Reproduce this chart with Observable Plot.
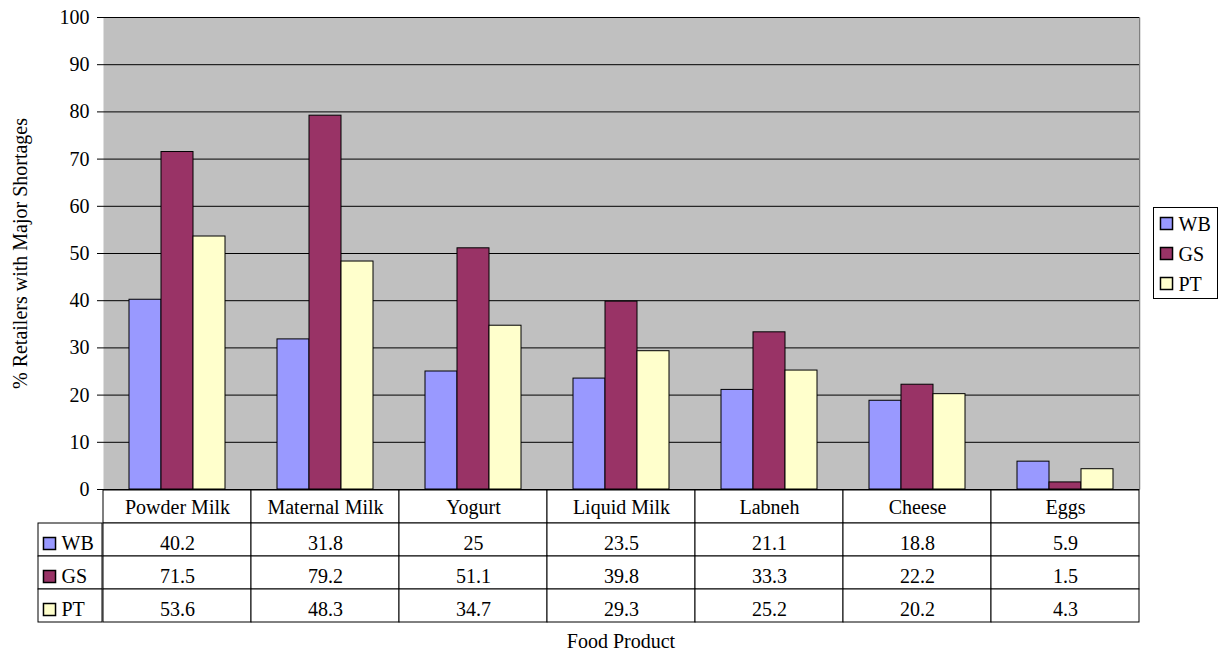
<!DOCTYPE html>
<html>
<head>
<meta charset="utf-8">
<script src="https://cdn.jsdelivr.net/npm/d3@7"></script>
<script src="https://cdn.jsdelivr.net/npm/@observablehq/plot@0.6"></script>
<style>
  body { margin: 0; background: white; }
  #chart { position: relative; width: 1225px; height: 652px; }
  #chart svg { position: absolute; overflow: visible; background: transparent; }
</style>
</head>
<body>
<div id="chart"></div>
<script>
// Share of retailers reporting major shortages, by food product and region
const categories = ["Powder Milk", "Maternal Milk", "Yogurt", "Liquid Milk", "Labneh", "Cheese", "Eggs"];
const seriesNames = ["WB", "GS", "PT"];
const seriesColors = ["#9999FF", "#993366", "#FFFFCC"];
const wbValues = [40.2, 31.8, 25, 23.5, 21.1, 18.8, 5.9];
const gsValues = [71.5, 79.2, 51.1, 39.8, 33.3, 22.2, 1.5];
const ptValues = [53.6, 48.3, 34.7, 29.3, 25.2, 20.2, 4.3];
const yTicks = [0, 10, 20, 30, 40, 50, 60, 70, 80, 90, 100];
const yTitle = "% Retailers with Major Shortages";
const xTitle = "Food Product";

// long-format rows for the bars and the data table
const valuesBySeries = {WB: wbValues, GS: gsValues, PT: ptValues};
const rows = seriesNames.flatMap(s =>
  categories.map((c, i) => ({category: c, series: s, value: valuesBySeries[s][i]}))
);
const tableRows = [xTitle, ...seriesNames];

const serif = "Liberation Serif";
const textStyle = {fontFamily: serif, fontSize: "20px"};
const color = {domain: seriesNames, range: seriesColors};
const container = document.getElementById("chart");

function place(svg, left, top) {
  svg.style.left = left + "px";
  svg.style.top = top + "px";
  container.appendChild(svg);
}

// grouped bar chart: one facet per product, one band per region
const chart = Plot.plot({
  width: 1225,
  height: 490,
  marginLeft: 102,
  marginRight: 86,
  marginTop: 17,
  marginBottom: 1,
  style: textStyle,
  fx: {domain: categories, padding: 0, axis: null},
  x: {domain: seriesNames, paddingInner: 0, paddingOuter: 0.75, axis: null},
  y: {domain: [0, 100], axis: null},
  color,
  marks: [
    Plot.frame({fill: "#C0C0C0", insetRight: -1}),
    Plot.ruleY(yTicks.filter(v => v > 0), {stroke: "black"}),
    Plot.barY(rows, {fx: "category", x: "series", y: "value", fill: "series", stroke: "black"}),
    Plot.ruleY([0], {stroke: "black"}),
    Plot.frame({anchor: "right", stroke: "#808080", fx: () => categories[categories.length - 1]}),
    Plot.axisY(yTicks, {
      fx: () => categories[0],
      anchor: "left",
      tickSize: 6,
      tickPadding: 8,
      label: null,
      fontFamily: serif,
      stroke: "black"
    }),
    Plot.text([yTitle], {
      fx: () => categories[0],
      text: d => d,
      frameAnchor: "left",
      textAnchor: "middle",
      dx: -83,
      rotate: -90,
      fontFamily: serif
    })
  ]
});
place(chart, 0, 0);

// data table under the chart, one column per product
const table = Plot.plot({
  width: 1225,
  height: 163,
  marginLeft: 102,
  marginRight: 86,
  marginTop: 0,
  marginBottom: 30,
  style: textStyle,
  x: {domain: categories, padding: 0, axis: null},
  y: {type: "band", domain: tableRows, padding: 0, axis: null},
  marks: [
    Plot.cell(categories, {x: d => d, y: () => xTitle, fill: "white", stroke: "black"}),
    Plot.text(categories, {x: d => d, y: () => xTitle, text: d => d, dy: 1, fontFamily: serif}),
    Plot.cell(rows, {x: "category", y: "series", fill: "white", stroke: "black"}),
    Plot.text(rows, {x: "category", y: "series", text: d => String(d.value), dy: 3.5, fontFamily: serif}),
    Plot.text([xTitle], {text: d => d, frameAnchor: "bottom", lineAnchor: "middle", dy: 19, fontFamily: serif})
  ]
});
place(table, 0, 489);

// key column at the left of the table
const key = Plot.plot({
  width: 65,
  height: 163,
  marginLeft: 0,
  marginRight: 1,
  marginTop: 0,
  marginBottom: 30,
  style: textStyle,
  y: {type: "band", domain: tableRows, padding: 0, axis: null},
  color,
  marks: [
    Plot.cell(seriesNames, {y: d => d, fill: "white", stroke: "black"}),
    Plot.dot(seriesNames, {y: d => d, frameAnchor: "left", dx: 11, dy: 3.5, symbol: "square", r: 6.8, fill: d => d, stroke: "black"}),
    Plot.text(seriesNames, {y: d => d, frameAnchor: "left", dx: 23, textAnchor: "start", text: d => d, dy: 3.5, fontFamily: serif})
  ]
});
place(key, 38, 489);

// legend box at the right of the chart
const legend = Plot.plot({
  width: 65,
  height: 92,
  marginLeft: 0,
  marginRight: 1,
  marginTop: 0,
  marginBottom: 1,
  style: textStyle,
  y: {type: "band", domain: seriesNames, padding: 0, axis: null},
  color,
  marks: [
    Plot.frame({stroke: "black", fill: "white"}),
    Plot.dot(seriesNames, {y: d => d, frameAnchor: "left", dx: 13, symbol: "square", r: 6.8, fill: d => d, stroke: "black"}),
    Plot.text(seriesNames, {y: d => d, frameAnchor: "left", dx: 25, textAnchor: "start", text: d => d, dy: 1, fontFamily: serif})
  ]
});
place(legend, 1153, 207);
</script>
</body>
</html>
